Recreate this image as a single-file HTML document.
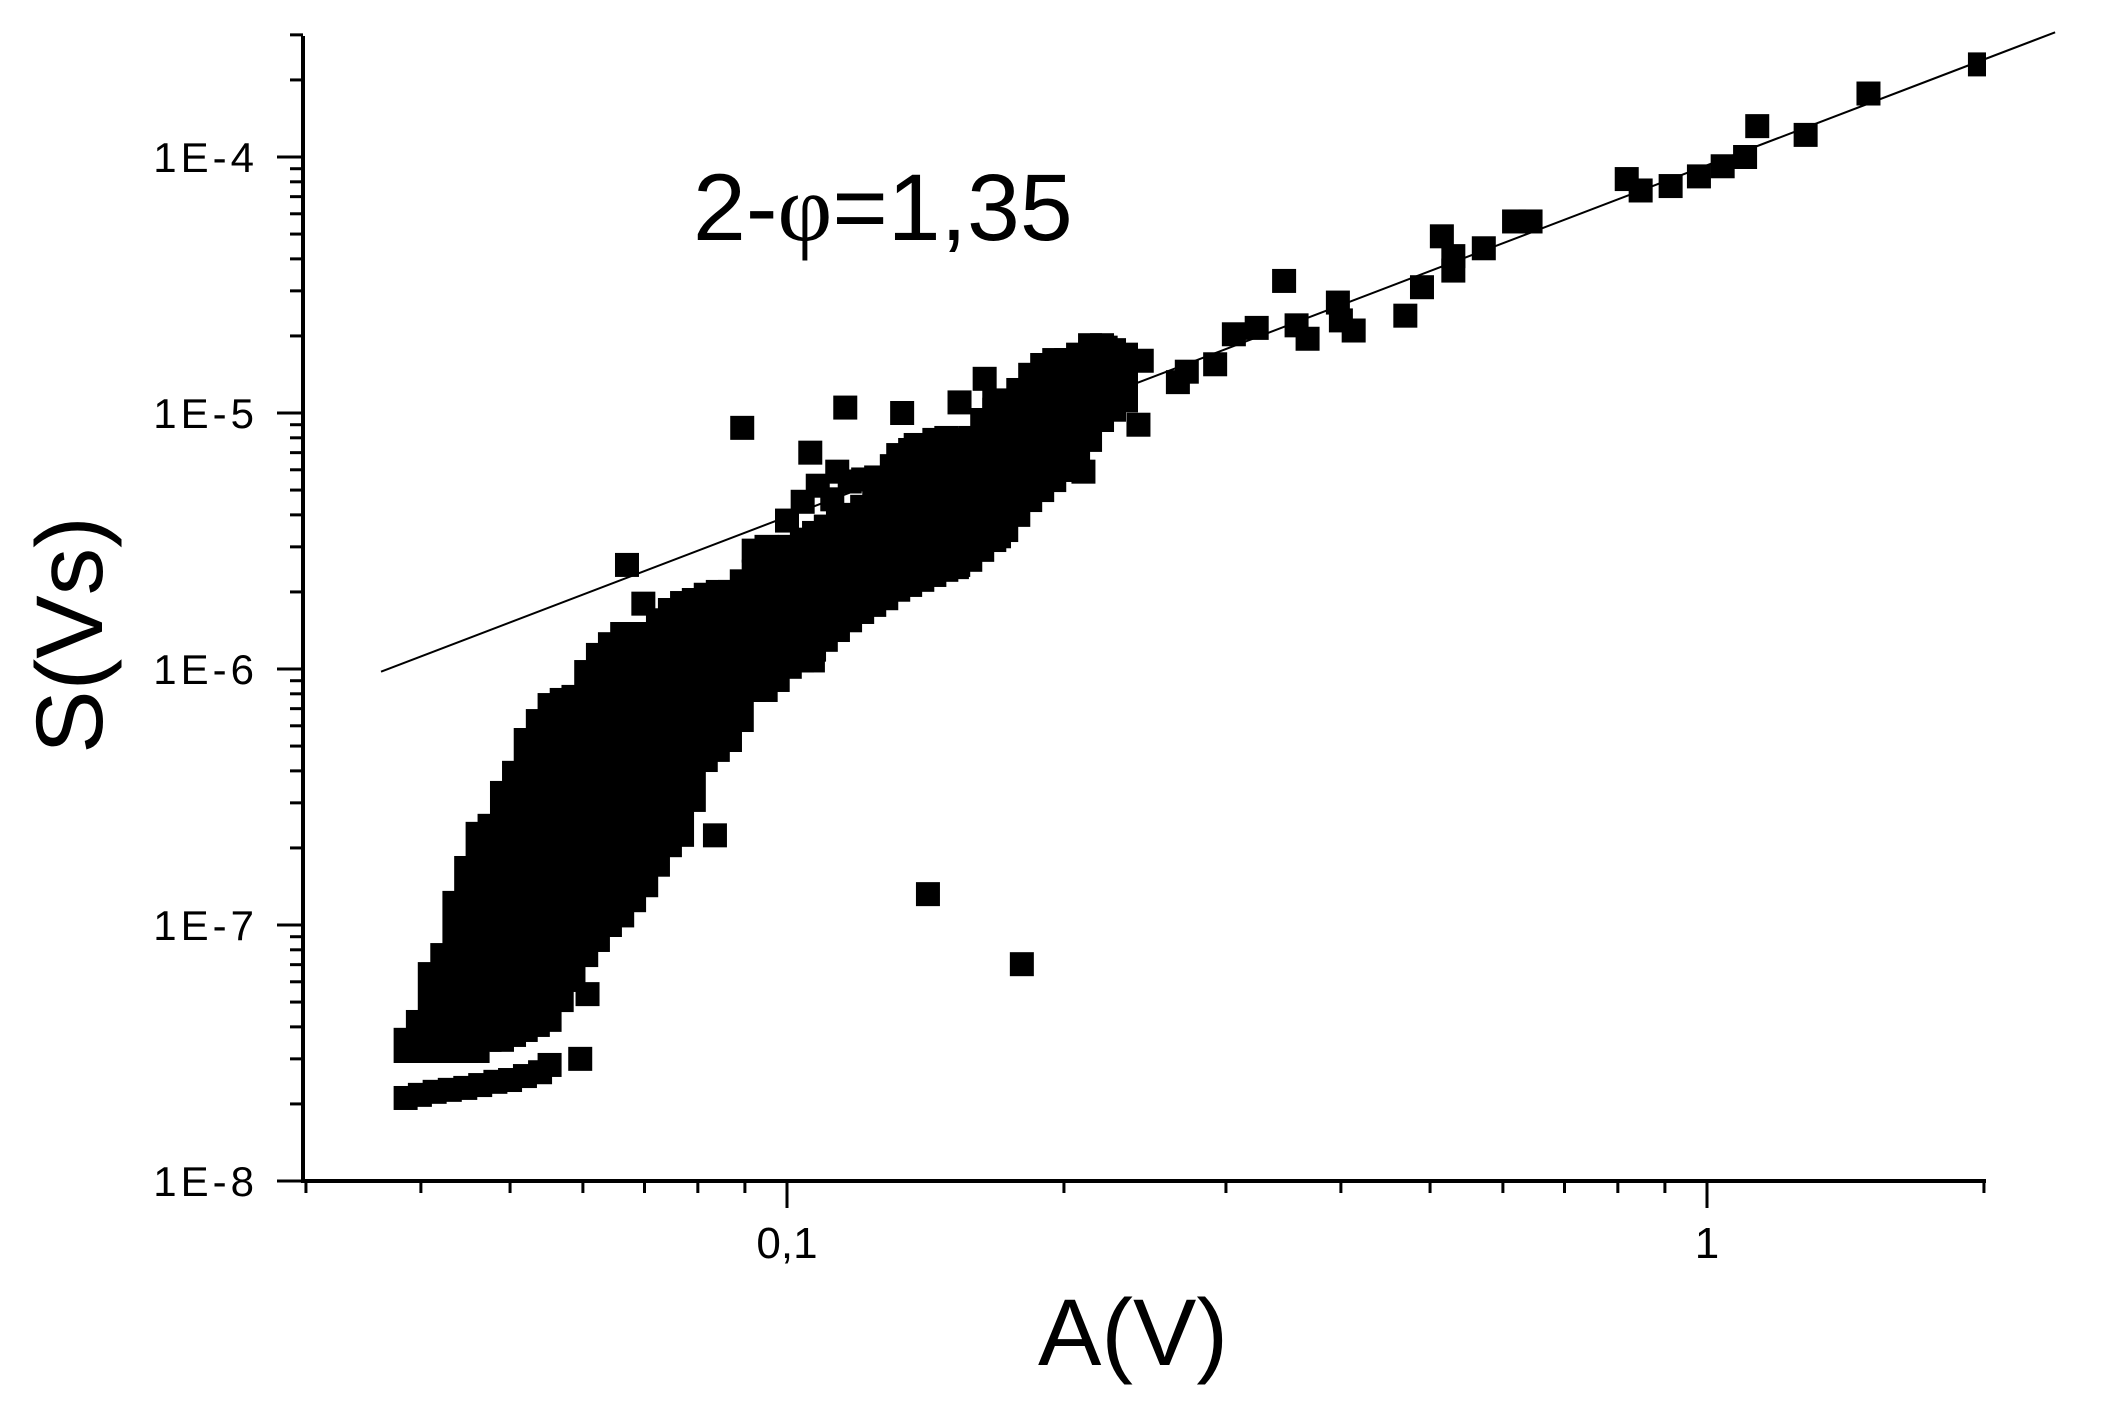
<!DOCTYPE html>
<html><head><meta charset="utf-8"><style>
html,body{margin:0;padding:0;background:#fff;}
svg{display:block;font-family:"Liberation Sans",sans-serif;}
</style></head><body>
<svg id="chart" width="2120" height="1419" viewBox="0 0 2120 1419" xmlns="http://www.w3.org/2000/svg">
<rect width="2120" height="1419" fill="#fff"/>
<g id="plot"></g>
<g id="axes"></g>
<text x="693" y="240" font-size="95" fill="#000">2-<tspan font-family="Liberation Serif, serif">φ</tspan>=1,35</text>
<text x="1133" y="1365" font-size="95" text-anchor="middle" fill="#000">A(V)</text>
<text transform="translate(102,635) rotate(-90)" font-size="95" text-anchor="middle" fill="#000">S(Vs)</text>
</svg>
<script>
// Dense region as columns: amplitude, lowest and highest S in that column
const blobA = [0.0385,0.0397,0.0409,0.0422,0.0435,0.0448,0.0461,0.0475,0.0490,0.0505,0.0520,0.0536,0.0552,0.0569,0.0586,0.0605,0.0623,0.0642,0.0662,0.0682,0.0703,0.0724,0.0746,0.0769,0.0792,0.0816,0.0841,0.0867,0.0893,0.0920,0.0948,0.0977,0.1007,0.1038,0.1070,0.1102,0.1136,0.1171,0.1207,0.1244,0.1282,0.1321,0.1361,0.1403,0.1446,0.1490,0.1535,0.1582,0.1630,0.1680,0.1731,0.1784,0.1838,0.1894,0.1952,0.2011,0.2072,0.2135,0.2200,0.2267,0.2336];
const blobLow = [3.22e-8,3.22e-8,3.22e-8,3.22e-8,3.22e-8,3.22e-8,3.22e-8,3.56e-8,3.56e-8,3.72e-8,3.89e-8,4.07e-8,4.26e-8,5.09e-8,6.10e-8,7.63e-8,8.74e-8,1.0e-7,1.09e-7,1.25e-7,1.43e-7,1.72e-7,2.05e-7,2.25e-7,3.08e-7,4.41e-7,4.83e-7,5.28e-7,6.32e-7,8.28e-7,8.28e-7,9.06e-7,1.02e-6,1.08e-6,1.19e-6,1.30e-6,1.42e-6,1.55e-6,1.67e-6,1.78e-6,1.89e-6,2.04e-6,2.13e-6,2.23e-6,2.33e-6,2.44e-6,2.55e-6,2.67e-6,2.92e-6,3.19e-6,3.49e-6,4.0e-6,4.57e-6,5.0e-6,5.47e-6,5.99e-6,6.55e-6,7.85e-6,9.39e-6,1.03e-5,1.12e-5];
const blobHigh = [3.56e-8,4.18e-8,6.43e-8,7.63e-8,1.22e-7,1.67e-7,2.27e-7,2.44e-7,3.28e-7,3.93e-7,5.28e-7,6.26e-7,7.23e-7,7.57e-7,7.78e-7,9.73e-7,1.135e-6,1.25e-6,1.37e-6,1.37e-6,1.37e-6,1.55e-6,1.70e-6,1.81e-6,1.86e-6,1.95e-6,2.0e-6,2.0e-6,2.2e-6,2.4e-6,2.6e-6,2.8e-6,3.0e-6,3.2e-6,3.4e-6,3.6e-6,3.8e-6,4.0e-6,4.3e-6,4.6e-6,5.0e-6,6.85e-6,7.17e-6,7.50e-6,7.85e-6,7.99e-6,7.85e-6,7.99e-6,9.39e-6,1.03e-5,1.12e-5,1.23e-5,1.41e-5,1.54e-5,1.61e-5,1.61e-5,1.69e-5,1.84e-5,1.84e-5,1.76e-5,1.69e-5];
// Lowest band of points
const bandA = [0.0385,0.0399,0.0414,0.0430,0.0447,0.0464,0.0482,0.0500,0.0519,0.0539,0.0552];
const bandS = [2.11e-8,2.17e-8,2.23e-8,2.27e-8,2.31e-8,2.37e-8,2.44e-8,2.48e-8,2.57e-8,2.66e-8,2.84e-8];
// Individual scattered points
const ptA = [0.0670,0.0698,0.0894,0.1157,0.1334,0.0607,0.0596,0.0835,0.1423,0.180,0.0858,0.1067,0.0960,0.106,0.1134,0.121,0.168,0.154,0.164,0.183,0.198,0.222,0.243,0.241,0.210,0.170,0.153,0.266,0.272,0.292,0.306,0.324,0.347,0.358,0.368,0.397,0.400,0.413,0.470,0.490,0.515,0.530,0.530,0.572,0.617,0.643,0.818,0.847,0.913,0.980,1.04,1.10,1.134,1.28,1.498,1.98,0.092,0.095,0.100,0.104,0.108,0.112,0.117,0.125,0.130,0.138];
const ptS = [2.55e-6,1.80e-6,8.75e-6,1.05e-5,1.0e-5,5.37e-8,3.0e-8,2.24e-7,1.32e-7,7.03e-8,5.78e-7,1.08e-6,1.05e-6,7.0e-6,5.9e-6,5.5e-6,1.1e-5,1.1e-5,1.36e-5,1.2e-5,1.55e-5,1.8e-5,1.6e-5,9e-6,5.9e-6,3.3e-6,2.5e-6,1.32e-5,1.45e-5,1.55e-5,2.03e-5,2.15e-5,3.28e-5,2.2e-5,1.95e-5,2.7e-5,2.3e-5,2.1e-5,2.4e-5,3.1e-5,4.9e-5,4.1e-5,3.6e-5,4.4e-5,5.6e-5,5.6e-5,8.2e-5,7.4e-5,7.7e-5,8.4e-5,9.2e-5,1.0e-4,1.32e-4,1.22e-4,1.77e-4,2.3e-4,2.9e-6,3.0e-6,3.8e-6,4.5e-6,5.2e-6,4.6e-6,5.4e-6,5.6e-6,6.2e-6,7.5e-6];
// Power-law fit line endpoints
const fitA = [0.0362, 2.39];
const fitS = [9.76e-7, 3.07e-4];
// Tick labels
const yTickVals = [1e-8,1e-7,1e-6,1e-5,1e-4];
const yTickLabels = ["1E-8","1E-7","1E-6","1E-5","1E-4"];
const xTickVals = [0.1, 1];
const xTickLabels = ["0,1","1"];

const NS = "http://www.w3.org/2000/svg";
const X0 = 303, Y0 = 1181, XR = 1986, YT = 36;
function xs(a){ return 787 + (Math.log10(a) + 1) * 920; }
function ys(s){ return 1181 - (Math.log10(s) + 8) * 256; }
function mk(tag, attrs, parent){
  const el = document.createElementNS(NS, tag);
  for (const k in attrs) el.setAttribute(k, attrs[k]);
  parent.appendChild(el);
  return el;
}
const plot = document.getElementById('plot');
const axes = document.getElementById('axes');
const M = 12;

const defs = mk('defs', {}, document.getElementById('chart'));
const cp = mk('clipPath', {id:'clip'}, defs);
mk('rect', {x: X0, y: 0, width: XR - X0, height: Y0}, cp);
plot.setAttribute('clip-path', 'url(#clip)');

for (let i = 0; i < blobA.length; i++) {
  const x = xs(blobA[i]);
  const yt = ys(blobHigh[i]) - M, yb = ys(blobLow[i]) + M;
  const r = mk('rect', {x: x - M, y: yt, width: 2*M, height: yb - yt, fill: '#000'}, plot);
  
  
}
for (let i = 0; i < bandA.length; i++) {
  const r = mk('rect', {x: xs(bandA[i]) - M, y: ys(bandS[i]) - M, width: 2*M, height: 2*M, fill: '#000'}, plot);
  
  
}
for (let i = 0; i < ptA.length; i++) {
  const r = mk('rect', {x: xs(ptA[i]) - M, y: ys(ptS[i]) - M, width: 2*M, height: 2*M, fill: '#000'}, plot);
  
  
}
const fl = mk('line', {x1: xs(fitA[0]), y1: ys(fitS[0]), x2: xs(fitA[1]), y2: ys(fitS[1]), stroke: '#000', 'stroke-width': 2}, document.getElementById('chart'));



// axes lines
const ya = mk('line', {x1: X0, y1: YT, x2: X0, y2: Y0 + 2, stroke: '#000', 'stroke-width': 4}, axes);


const xa = mk('line', {x1: X0 - 2, y1: Y0, x2: XR, y2: Y0, stroke: '#000', 'stroke-width': 4}, axes);



// y ticks
for (let d = -8; d <= -4; d++) {
  for (let m = 1; m <= 9; m++) {
    const v = m * Math.pow(10, d);
    if (v > 3.05e-4) break;
    const y = ys(v);
    const t = mk('line', {x1: m === 1 ? 277 : 290, y1: y, x2: X0, y2: y, stroke: '#000', 'stroke-width': 3}, axes);
    
    
  }
}
yTickVals.forEach((v, i) => {
  const t = mk('text', {x: 258, y: ys(v) + 15, 'font-size': 42, 'letter-spacing': 4, 'text-anchor': 'end', fill: '#000'}, axes);
  t.textContent = yTickLabels[i];
  
  
});
// x ticks
for (let d = -2; d <= 0; d++) {
  for (let m = 1; m <= 9; m++) {
    const v = m * Math.pow(10, d);
    if (v < 0.0299 || v > 2.01) continue;
    const x = xs(v);
    const t = mk('line', {x1: x, y1: Y0, x2: x, y2: m === 1 ? 1208 : 1193, stroke: '#000', 'stroke-width': 3}, axes);
    
    
  }
}
xTickVals.forEach((v, i) => {
  const t = mk('text', {x: xs(v), y: 1258, 'font-size': 44, 'text-anchor': 'middle', fill: '#000'}, axes);
  t.textContent = xTickLabels[i];
  
  
});
</script>
</body></html>
